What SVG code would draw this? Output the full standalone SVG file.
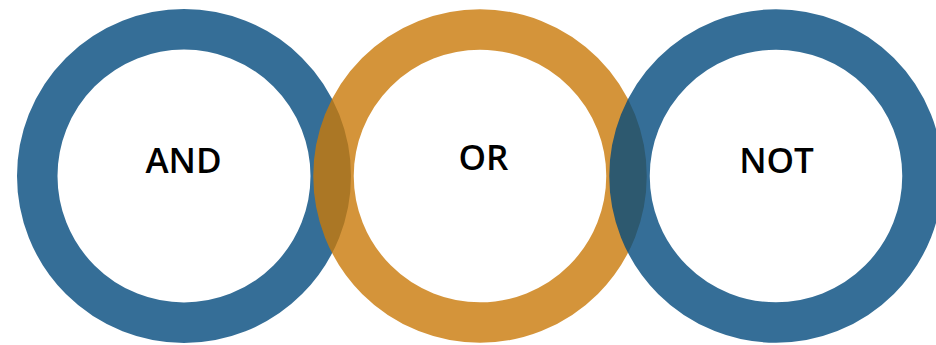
<svg xmlns="http://www.w3.org/2000/svg" width="936" height="345" viewBox="0 0 936 345">
  <style>
    .ring { fill: none; stroke-width: 40.5; opacity: 0.8; }
    .blue { stroke: #034A7D; }
    .orange { stroke: #C97909; }
    .label { font-family: "Open Sans", "Liberation Sans", sans-serif; font-weight: 600; font-size: 35px; fill: #000; text-anchor: middle; }
  </style>
  <rect width="936" height="345" fill="#fff"/>
  <g id="node-and">
    <circle class="ring blue" cx="184" cy="176" r="146.75"/>
    <text class="label" x="183.5" y="173">AND</text>
  </g>
  <g id="node-or">
    <circle class="ring orange" cx="480" cy="176" r="146.5"/>
    <text class="label" x="483.5" y="170">OR</text>
  </g>
  <g id="node-not">
    <circle class="ring blue" cx="776" cy="176" r="146.5"/>
    <text class="label" x="776.5" y="172.5">NOT</text>
  </g>
</svg>
